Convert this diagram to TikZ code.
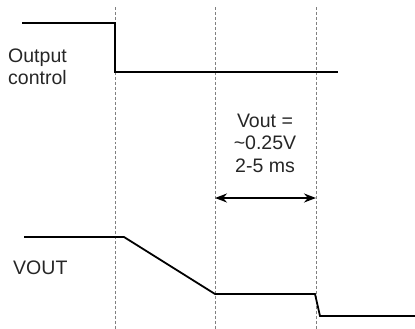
\documentclass[tikz,border=0pt]{standalone}
\usepackage{fontspec}
\setmainfont{Liberation Sans}
\usetikzlibrary{arrows.meta,calc}
\tikzset{
  senal/.style={line width=1.8pt, black, line join=miter},
  guia/.style={densely dashed, gray, line width=0.6pt},
  etiq/.style={font=\fontsize{19.6}{22.5}\selectfont, inner sep=0pt, text=black!85},
  flecha/.style={{Stealth[length=12pt,width=9pt]}-{Stealth[length=12pt,width=9pt]}, line width=2.6pt}
}
\begin{document}
\begin{tikzpicture}[x=1bp,y=-1bp]
\useasboundingbox (0,0) rectangle (415,329);

% instantes de referencia
\coordinate (t1a) at (115,7);   \coordinate (t1b) at (115,329);
\coordinate (t2a) at (215,7);   \coordinate (t2b) at (215,329);
\coordinate (t3a) at (316,7);   \coordinate (t3b) at (316,329);
\draw[guia] (t1a) -- (t1b);
\draw[guia] (t2a) -- (t2b);
\draw[guia] (t3a) -- (t3b);

% Output control
\coordinate (oc0) at (22,23);
\coordinate (oc1) at (115,23);
\coordinate (oc2) at (115,72);
\coordinate (oc3) at (338,72);
\draw[senal] (oc0) -- (oc1) -- (oc2) -- (oc3);
\node[etiq, anchor=west, align=left] (ocetiq) at (8,67) {Output\\control};

% VOUT
\coordinate (vo0) at (24,237);
\coordinate (vo1) at (124,237);
\coordinate (vo2) at (215,294);
\coordinate (vo3) at (315,294);
\coordinate (vo4) at (320,316);
\coordinate (vo5) at (415,316);
\draw[senal] (vo0) -- (vo1) -- (vo2) -- (vo3) -- (vo4) -- (vo5);
\node[etiq, anchor=west] (voetiq) at (13,268) {VOUT};

% intervalo
\coordinate (ia) at (215,198);
\coordinate (ib) at (316,198);
\draw[flecha] (ia) -- (ib);
\node[etiq, align=center] (ietiq) at (265,143) {Vout =\\\char`\~0.25V\\2-5 ms};

\end{tikzpicture}
\end{document}
